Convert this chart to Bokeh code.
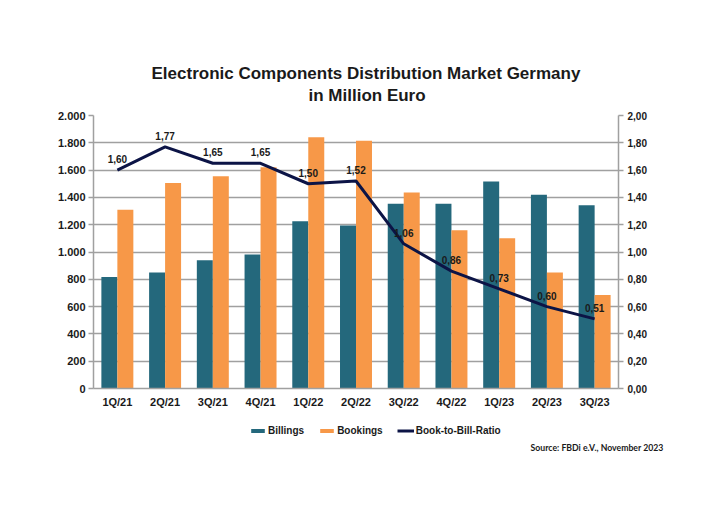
from bokeh.plotting import figure
from bokeh.layouts import column
from bokeh.models import (ColumnDataSource, FactorRange, Range1d, LinearAxis, FixedTicker,
                          CustomJSTickFormatter, LabelSet, Title, Legend, LegendItem)
from bokeh.core.properties import value
from bokeh.transform import dodge
from bokeh.embed import file_html
from bokeh.resources import INLINE

# ---- data ----
quarters = ["1Q/21", "2Q/21", "3Q/21", "4Q/21", "1Q/22", "2Q/22",
            "3Q/22", "4Q/22", "1Q/23", "2Q/23", "3Q/23"]
billings = [817, 849, 939, 981, 1225, 1195, 1354, 1354, 1517, 1420, 1342]
bookings = [1310, 1505, 1555, 1620, 1840, 1815, 1435, 1160, 1100, 850, 685]
book_to_bill = [1.60, 1.77, 1.65, 1.65, 1.50, 1.52, 1.06, 0.86, 0.73, 0.60, 0.51]
left_ticks = [0, 200, 400, 600, 800, 1000, 1200, 1400, 1600, 1800, 2000]
right_ticks = [0.0, 0.2, 0.4, 0.6, 0.8, 1.0, 1.2, 1.4, 1.6, 1.8, 2.0]
title_lines = ["Electronic Components Distribution Market Germany", "in Million Euro"]
series_names = ["Billings", "Bookings", "Book-to-Bill-Ratio"]
source_note = "Source: FBDi e.V., November 2023"

TEAL = "#24687c"
ORANGE = "#f79848"
NAVY = "#0c1446"
GRID = "#a0a0a0"
TXT = "#1a1a1a"
FONT = "Liberation Sans"

src = ColumnDataSource(dict(
    q=quarters, billings=billings, bookings=bookings, ratio=book_to_bill,
    ratio_txt=[f"{v:.2f}".replace(".", ",") for v in book_to_bill],
))

p = figure(width=705, height=415, x_range=FactorRange(*quarters),
           y_range=Range1d(0, 2000), output_backend="svg", toolbar_location=None,
           min_border_left=93, min_border_right=87, min_border_top=115, min_border_bottom=27)
p.extra_y_ranges = {"ratio": Range1d(0, 2.0)}
p.outline_line_color = None

p.vbar(x=dodge("q", -0.1675, range=p.x_range), top="billings", width=0.335,
       source=src, fill_color=TEAL, line_color=None)
p.vbar(x=dodge("q", 0.1675, range=p.x_range), top="bookings", width=0.335,
       source=src, fill_color=ORANGE, line_color=None)
p.line(x="q", y="ratio", source=src, y_range_name="ratio", line_color=NAVY, line_width=3)

p.add_layout(LabelSet(x="q", y="ratio", text="ratio_txt", source=src, y_range_name="ratio",
                      y_offset=11, text_align="center", text_baseline="middle",
                      text_font=value(FONT), text_font_size=value("10px"),
                      text_font_style="bold", text_color=TXT))

# axes and grid
p.xgrid.grid_line_color = None
p.ygrid.grid_line_color = GRID
p.ygrid.grid_line_width = 1.5
p.ygrid.ticker = FixedTicker(ticks=left_ticks)

def style_axis(ax, size, tick_out, standoff):
    ax.axis_line_color = GRID
    ax.axis_line_width = 1.5
    ax.major_tick_line_color = GRID if tick_out else None
    ax.major_tick_line_width = 1.5
    ax.major_tick_out = tick_out
    ax.major_tick_in = 0
    ax.minor_tick_line_color = None
    ax.major_label_standoff = standoff
    ax.major_label_text_font = FONT
    ax.major_label_text_font_size = size
    ax.major_label_text_font_style = "bold"
    ax.major_label_text_color = TXT

ya = p.yaxis[0]
ya.ticker = FixedTicker(ticks=left_ticks)
ya.formatter = CustomJSTickFormatter(
    code="return tick.toFixed(0).replace(/\\B(?=(\\d{3})+(?!\\d))/g, '.');")
style_axis(ya, "11px", 5, 3)

style_axis(p.xaxis[0], "11px", 0, 7)

ra = LinearAxis(y_range_name="ratio", ticker=FixedTicker(ticks=right_ticks),
                formatter=CustomJSTickFormatter(code="return tick.toFixed(2).replace('.', ',');"))
style_axis(ra, "10px", 5, 4)
p.add_layout(ra, "right")

# title (stacked outward from the frame: spacer, line 2, line 1)
p.add_layout(Title(text=" ", text_font_size="1px", standoff=7), "above")
p.add_layout(Title(text=title_lines[1], align="left", offset=215, standoff=2,
                   text_font=FONT, text_font_size="17px", text_font_style="bold",
                   text_color=TXT), "above")
p.add_layout(Title(text=title_lines[0], align="left", offset=58, standoff=0,
                   text_font=FONT, text_font_size="17px", text_font_style="bold",
                   text_color=TXT), "above")

# ---- legend / source strip below the chart ----
p2 = figure(width=705, height=79, x_range=Range1d(0, 525), y_range=Range1d(0, 23),
            output_backend="svg", toolbar_location=None, x_axis_type=None, y_axis_type=None,
            min_border_left=93, min_border_right=87, min_border_top=0, min_border_bottom=56)
p2.outline_line_color = None
p2.grid.visible = False
nan = float("nan")
proxy = ColumnDataSource(dict(x=[nan], y=[nan]))
d_bill = p2.vbar(x="x", top="y", width=1, source=proxy, fill_color=TEAL, line_color=None)
d_book = p2.vbar(x="x", top="y", width=1, source=proxy, fill_color=ORANGE, line_color=None)
d_line = p2.line(x="x", y="y", source=proxy, line_color=NAVY, line_width=3)

legend = Legend(items=[LegendItem(label=series_names[0], renderers=[d_bill], index=0),
                       LegendItem(label=series_names[1], renderers=[d_book], index=0),
                       LegendItem(label=series_names[2], renderers=[d_line], index=0)],
                location=(156, 2), orientation="horizontal",
                glyph_width=17, glyph_height=5, label_height=10, label_standoff=2,
                spacing=14, padding=0, margin=0, border_line_color=None,
                background_fill_alpha=0, label_text_font=FONT, label_text_font_size="10px",
                label_text_font_style="bold", label_text_color=TXT)
p2.add_layout(legend)

p2.add_layout(Title(text=source_note, align="right", offset=-45, standoff=6,
                    vertical_align="top", text_font="Lato", text_font_size="8.7px",
                    text_font_style="bold", text_color=TXT), "below")

layout = column(p, p2, spacing=0)
open("out.html", "w").write(file_html(layout, INLINE))
